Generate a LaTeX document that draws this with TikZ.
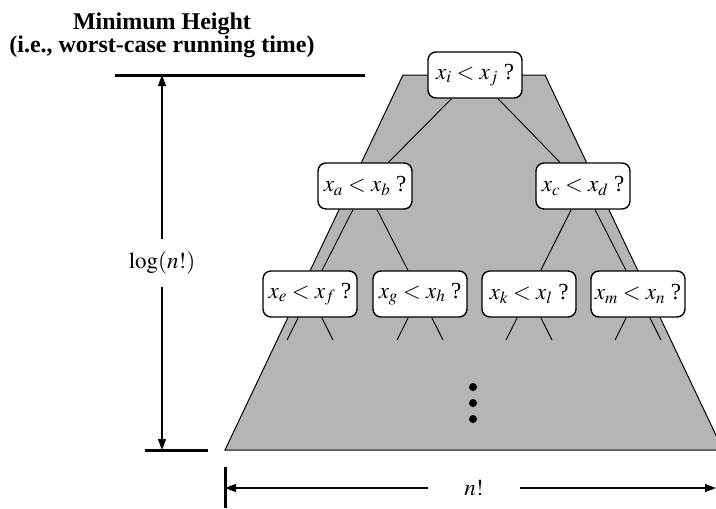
\documentclass[tikz,border=0pt]{standalone}
\usepackage{mathptmx}
\usepackage{fontspec}
\setmainfont{Liberation Serif}
\usetikzlibrary{arrows.meta,calc}
\definecolor{treegray}{RGB}{181,181,181}
\newcommand{\bigtext}{\fontsize{23}{24}\selectfont}
\newcommand{\titletext}{\fontsize{24}{21}\selectfont\bfseries}
\tikzset{
  query/.style={draw, line width=1.4pt, rounded corners=8pt, fill=white, minimum width=94pt, minimum height=46pt, inner sep=0pt, font=\bigtext},
  branch/.style={line width=0.9pt},
  dimarrow/.style={-{Triangle[length=11pt,width=8pt]}, line width=1.2pt},
  bar/.style={line width=3pt},
  dimlabel/.style={font=\bigtext, inner sep=0pt}
}

\begin{document}
\begin{tikzpicture}[x=1pt,y=-1pt]
  \useasboundingbox (0,0) rectangle (716,509);
  \clip (0,0) rectangle (716,509);

  % Title above the height dimension.
  \node[font=\titletext, align=center, inner sep=0pt] (title) at (162,35) {Minimum Height\\(i.e., worst-case running time)};

  % Shaded region covered by the decision tree.
  \draw[line width=1pt, fill=treegray] (403,75) -- (545,75) -- (723,450) -- (225,450) -- cycle;

  % Comparison nodes.
  \node[query] (root) at (475,75) {$x_i < x_j$ ?};
  \node[query] (xa) at (365,186) {$x_a < x_b$ ?};
  \node[query] (xc) at (583,186) {$x_c < x_d$ ?};
  \node[query] (xe) at (310,294) {$x_e < x_f$ ?};
  \node[query] (xg) at (420,294) {$x_g < x_h$ ?};
  \node[query] (xk) at (529,294) {$x_k < x_l$ ?};
  \node[query] (xm) at (638,294) {$x_m < x_n$ ?};
  \draw[branch] (root) -- (xa);
  \draw[branch] (root) -- (xc);
  \draw[branch] (xa) -- (xe);
  \draw[branch] (xa) -- (xg);
  \draw[branch] (xc) -- (xk);
  \draw[branch] (xc) -- (xm);
  \foreach \n in {xe,xg,xk,xm} {
    \coordinate (\n-l) at ($(\n.center)+(-23,46)$);
    \coordinate (\n-r) at ($(\n.center)+(23,46)$);
    \draw[branch] (\n) -- (\n-l);
    \draw[branch] (\n) -- (\n-r);
  }
  \foreach \y in {387,403,419}
    \fill (473,\y) circle (4pt);

  % Height dimension.
  \draw[bar] (115,75) -- (365,75);
  \draw[bar] (145,450) -- (208,450);
  \coordinate (htop) at (162,75);
  \coordinate (hbot) at (162,450);
  \node[dimlabel, minimum height=47pt] (logn) at (162,263) {$\log(n!)$};
  \draw[dimarrow] (logn.north) -- (htop);
  \draw[dimarrow] (logn.south) -- (hbot);

  % Width dimension.
  \draw[bar] (225,467) -- (225,508);
  \coordinate (wl) at (225,488);
  \coordinate (wr) at (716,488);
  \node[dimlabel, minimum width=92pt] (nfac) at (474,488) {$n!$};
  \draw[dimarrow] (nfac.west) -- (wl);
  \draw[dimarrow] (nfac.east) -- (wr);
\end{tikzpicture}
\end{document}
